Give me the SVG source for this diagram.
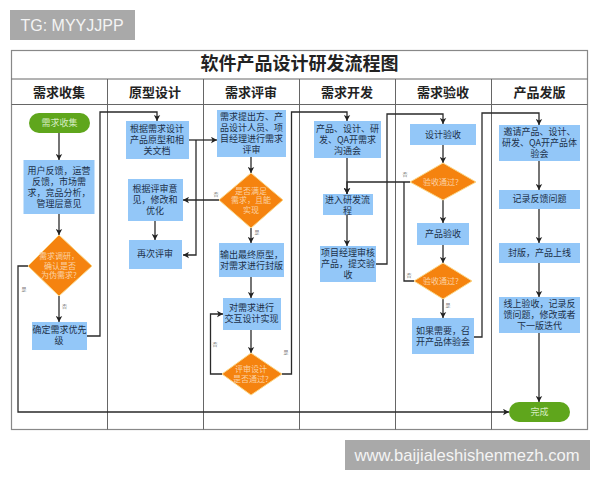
<svg xmlns="http://www.w3.org/2000/svg" width="600" height="480" viewBox="0 0 600 480">
<defs><marker id="a" markerWidth="7" markerHeight="7" refX="6" refY="3.5" orient="auto" markerUnits="userSpaceOnUse"><path d="M0 0.3L6 3.5L0 6.7L1.5 3.5Z" fill="#222"/></marker></defs>
<style>
text{font-family:"Noto Sans CJK SC","Liberation Sans",sans-serif;text-anchor:middle}
.b rect{fill:#93c7f8}.b text{font-size:9px;fill:#1c3048}
.d polygon{fill:#f5830f;stroke:#fbd88a;stroke-width:1}.d text{font-size:8px;fill:#fbd2a4}
.t rect{fill:#5fa61c}.t text{font-size:9px;fill:#d5ecc0}
.h{font-size:13px;font-weight:700;fill:#222}
.g{font-size:5px;fill:#777}
.c path{fill:none;stroke:#2a2a2a;stroke-width:1.3;marker-end:url(#a)}
.c path.n{marker-end:none}
.w rect{fill:#a9a9a9}.w text{fill:#f4f4f4;font-family:"Liberation Sans",sans-serif;font-size:16px}
</style>
<rect width="600" height="480" fill="#fff"/>
<g id="frame" fill="none" stroke="#666" stroke-width="1">
<rect x="11.500" y="50.500" width="576" height="379" stroke="#888" stroke-width="1.200"/>
<path d="M11.500 79H587.500M11.500 104.500H587.500M107.500 79V429.500M203.500 79V429.500M299.500 79V429.500M395.500 79V429.500M491.500 79V429.500"/>
</g>
<text x="299.500" y="70" style="font-size:18px;font-weight:700;fill:#222">软件产品设计研发流程图</text>
<g id="headers"><text x="59" y="97" class="h">需求收集</text><text x="155" y="97" class="h">原型设计</text><text x="251" y="97" class="h">需求评审</text><text x="347" y="97" class="h">需求开发</text><text x="443" y="97" class="h">需求验收</text><text x="539.500" y="97" class="h">产品发版</text></g>
<g id="connectors" class="c">
<path d="M59 133V160"/><path d="M59 214V235"/><path d="M59 296V322"/>
<path d="M87 336H100V112H157V121"/>
<path d="M189 140H217"/><path d="M196 140V255H183"/><path d="M155 221V240"/>
<path d="M251 157V173"/><path d="M219 200H183"/><path d="M251 228V243"/>
<path d="M251 277V298"/><path d="M251 330V353"/>
<path d="M222 374H210.500V314H223"/><path d="M282 374H291.500V112H347V121"/>
<path d="M347 158V194"/><path d="M347 215V246"/>
<path d="M410 182H347V194"/><path class="n" d="M414 281H404V182"/>
<path d="M376 264H387V114H443V124"/>
<path d="M443 145V163"/><path d="M443 200V223"/><path d="M443 245V263"/><path d="M443 299V318"/>
<path d="M474 337H482V113H539V125"/>
<path d="M539 161V190"/><path d="M539 209V243"/><path d="M539 263V297"/><path d="M539 333V402"/>
<path d="M28 266H18V412H509"/>
</g>
<g id="n1" class="t"><rect x="29" y="113" width="61" height="20" rx="10"/><text x="59.500" y="126">需求收集</text></g>
<g id="n2" class="b"><rect x="23.500" y="160" width="71" height="54"/><text x="59" y="174">用户反馈，运营</text><text x="59" y="185">反馈，市场需</text><text x="59" y="196">求，竞品分析，</text><text x="59" y="207">管理层意见</text></g>
<g id="n3" class="d"><polygon points="59,235 92,266 59,296 28,266"/><text x="59" y="259">需求调研，</text><text x="60" y="269">确认是否</text><text x="59" y="278">为伪需求?</text></g>
<g id="n4" class="b"><rect x="32" y="322" width="55" height="28"/><text x="59.500" y="333">确定需求优先</text><text x="59" y="344">级</text></g>
<g id="n5" class="b"><rect x="126" y="121" width="63" height="38"/><text x="157" y="132">根据需求设计</text><text x="157" y="143">产品原型和相</text><text x="157" y="154">关文档</text></g>
<g id="n6" class="b"><rect x="128" y="179" width="55" height="42"/><text x="155" y="192">根据评审意</text><text x="155" y="203">见，修改和</text><text x="155" y="214">优化</text></g>
<g id="n7" class="b"><rect x="129" y="240" width="53" height="29"/><text x="155" y="257">再次评审</text></g>
<g id="n8" class="b"><rect x="217" y="110" width="69" height="47"/><text x="251.500" y="120">需求提出方、产</text><text x="251.500" y="131">品设计人员、项</text><text x="251.500" y="142">目经理进行需求</text><text x="251.500" y="153">评审</text></g>
<g id="n9" class="d"><polygon points="251,173 283,200 251,228 219,200"/><text x="251" y="194">是否满足</text><text x="251" y="203">需求，且能</text><text x="251" y="213">实现</text></g>
<g id="n10" class="b"><rect x="219" y="243" width="65" height="34"/><text x="251.500" y="258">输出最终原型，</text><text x="251.500" y="269">对需求进行封版</text></g>
<g id="n11" class="b"><rect x="223" y="298" width="58" height="32"/><text x="251.500" y="311">对需求进行</text><text x="251.500" y="322">交互设计实现</text></g>
<g id="n12" class="d"><polygon points="251,353 282,374 251,395 222,374"/><text x="251" y="372">评审设计</text><text x="251" y="382">是否通过?</text></g>
<g id="n13" class="b"><rect x="314" y="121" width="67" height="37"/><text x="347.500" y="132">产品、设计、研</text><text x="347.500" y="143">发、QA开需求</text><text x="347.500" y="154">沟通会</text></g>
<g id="n14" class="b"><rect x="323" y="194" width="50" height="21"/><text x="347.500" y="202.500">进入研发流</text><text x="347.500" y="213.500">程</text></g>
<g id="n15" class="b"><rect x="320" y="246" width="56" height="36"/><text x="348" y="256">项目经理审核</text><text x="348" y="267">产品，提交验</text><text x="348" y="278">收</text></g>
<g id="n16" class="b"><rect x="410" y="124" width="66" height="21"/><text x="443" y="138">设计验收</text></g>
<g id="n17" class="d"><polygon points="443,163 476,182 443,200 410,182"/><text x="441" y="185">验收通过?</text></g>
<g id="n18" class="b"><rect x="417" y="223" width="52" height="22"/><text x="443" y="237">产品验收</text></g>
<g id="n19" class="d"><polygon points="443,263 472,281 443,299 414,281"/><text x="441" y="284">验收通过?</text></g>
<g id="n20" class="b"><rect x="412" y="318" width="62" height="36"/><text x="443" y="334">如果需要，召</text><text x="443" y="345">开产品体验会</text></g>
<g id="n21" class="b"><rect x="499" y="125" width="81" height="36"/><text x="539.500" y="135">邀请产品、设计、</text><text x="539.500" y="146">研发、QA开产品体</text><text x="539.500" y="157">验会</text></g>
<g id="n22" class="b"><rect x="499" y="190" width="81" height="19"/><text x="539.500" y="202">记录反馈问题</text></g>
<g id="n23" class="b"><rect x="499" y="243" width="81" height="20"/><text x="539.500" y="256">封版，产品上线</text></g>
<g id="n24" class="b"><rect x="499" y="297" width="81" height="36"/><text x="539.500" y="307">线上验收，记录反</text><text x="539.500" y="318">馈问题，修改或者</text><text x="539.500" y="329">下一版迭代</text></g>
<g id="n25" class="t"><rect x="509" y="402" width="61" height="20" rx="10"/><text x="539.500" y="415">完成</text></g>
<g id="labels"><text class="g" x="24" y="291">是</text><text class="g" x="64.500" y="308">否</text><text class="g" x="216" y="196">否</text><text class="g" x="257" y="234">是</text><text class="g" x="215" y="346">否</text><text class="g" x="286" y="354">是</text><text class="g" x="405" y="176">否</text><text class="g" x="409" y="277">否</text><text class="g" x="448" y="307">是</text></g>
<g class="w"><rect x="10" y="10" width="125" height="30"/><text x="72" y="30.500">TG: MYYJJPP</text><rect x="345" y="440" width="245" height="30"/><text x="467" y="460.500" style="font-size:16.600px">www.baijialeshishenmezh.com</text></g>
</svg>
